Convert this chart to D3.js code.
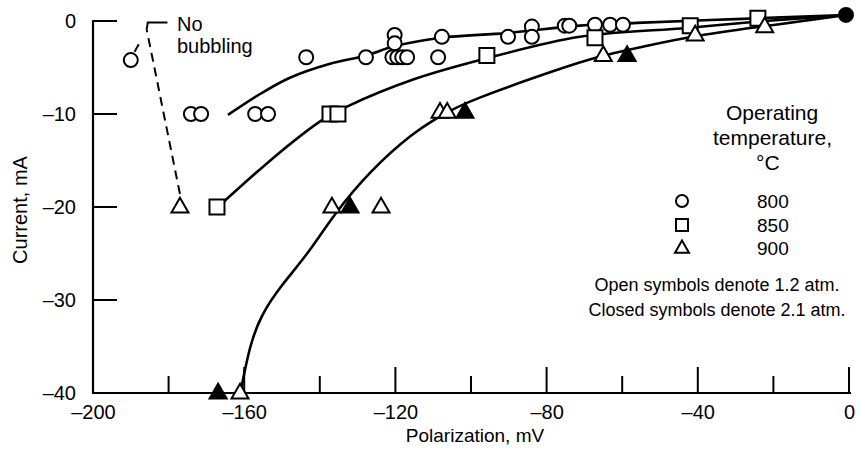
<!DOCTYPE html>
<html><head><meta charset="utf-8">
<script src="https://cdn.jsdelivr.net/npm/d3@7"></script>
<style>
html,body{margin:0;padding:0;background:#fff;}
svg{display:block;}
text{font-family:"Liberation Sans",Arial,Helvetica,sans-serif;fill:#000;}
</style></head>
<body>
<script>
// ---- data (polarization mV, current mA) ----
const xTicks = [-200,-160,-120,-80,-40,0];
const xMinorTicks = [-180,-140,-100,-60,-20];
const yTicks = [0,-10,-20,-30,-40];

const open800 = [[-190,-4.2],[-174.1,-10],[-171.4,-10],[-157.1,-10],[-153.7,-10],
  [-143.6,-3.9],[-127.8,-3.9],[-120.2,-1.5],[-120.2,-2.4],
  [-120.8,-3.9],[-119.5,-3.9],[-118.2,-3.9],[-116.9,-3.9],
  [-108.7,-3.9],[-107.7,-1.7],[-90.2,-1.7],[-83.9,-0.6],[-83.9,-1.7],
  [-75.2,-0.5],[-74.0,-0.5],[-67.2,-0.4],[-63.2,-0.4],[-59.8,-0.4]];
const closed800 = [[-0.8,0.65]];
const open850 = [[-167.2,-20],[-137.3,-10],[-135.2,-10],[-95.8,-3.7],[-67.2,-1.8],[-42,-0.5],[-24.1,0.3]];
const open900 = [[-177,-20],[-161.1,-40],[-136.8,-20],[-123.8,-20],[-108.2,-9.8],[-106.3,-9.8],
  [-65,-3.7],[-40.7,-1.5],[-22.3,-0.6]];
const closed900 = [[-166.9,-40],[-132,-20],[-101.6,-9.8],[-58.7,-3.7]];

const curve800 = [[-164.3,-10.1],[-155.8,-7.85],[-147.9,-6.1],[-137.3,-4.6],[-127.8,-3.7],[-120.1,-2.7],
  [-107.9,-1.8],[-90.5,-1.3],[-71.2,-0.5],[-56.1,-0.2],[-30,0.2],[-0.8,0.65]];
const curve850 = [[-167.2,-20.1],[-150.5,-14.1],[-139.2,-10.6],[-132.8,-9.2],[-115.3,-6.3],[-97.6,-4.2],
  [-71.2,-1.7],[-42.9,-0.75],[-25.4,-0.1],[-0.8,0.65]];
const curve900 = [[-161.1,-40],[-160.6,-39.2],[-158.6,-35],[-155.6,-31.6],[-150,-28.3],
  [-143.4,-25.2],[-136.3,-20.8],[-126.7,-16.1],[-115.3,-12],[-108.5,-10.3],
  [-101.1,-8.6],[-71.2,-4.4],[-65.1,-3.7],[-40.7,-1.5],[-22.8,-0.6],[-0.8,0.65]];

const leaderDashed = [[-177,-18.6],[-185.8,-0.9]];
const leaderSolid = [[-185.8,-0.9],[-185.5,-0.15],[-180.3,-0.15]];
const leaderCircle = [[-189,-3.3],[-187.9,-2.5]];

const legendTemps = ["800","850","900"];
const legendTitle = ["Operating","temperature,","\u00B0C"];
const notes = ["Open symbols denote 1.2 atm.","Closed symbols denote 2.1 atm."];

// ---- drawing ----
const W = 859, H = 453;
const svg = d3.select("body").append("svg").attr("width",W).attr("height",H);
const x = d3.scaleLinear().domain([-200,0]).range([93,849]);
const y = d3.scaleLinear().domain([-40,0]).range([393,21]);
const fmt = v => v===0 ? "0" : "\u2013"+Math.abs(v);

// axes
const xAxis = d3.axisBottom(x).tickValues(xTicks).tickSize(0).tickPadding(12).tickFormat(fmt);
const gx = svg.append("g").attr("transform",`translate(0,${y(-40)})`).call(xAxis);
gx.select(".domain").remove();
gx.selectAll("text").attr("font-size",20).attr("font-family","Liberation Sans, Arial, sans-serif");
svg.append("line").attr("x1",x(-200)).attr("x2",x(0)+2).attr("y1",y(-40)).attr("y2",y(-40))
  .attr("stroke","#000").attr("stroke-width",2.2);
svg.selectAll(".xmaj").data(xTicks.filter(d=>d>-200)).join("line")
  .attr("x1",d=>x(d)).attr("x2",d=>x(d)).attr("y1",y(-40)).attr("y2",y(-40)-26)
  .attr("stroke","#000").attr("stroke-width",2);
svg.selectAll(".xmin").data(xMinorTicks).join("line")
  .attr("x1",d=>x(d)).attr("x2",d=>x(d)).attr("y1",y(-40)).attr("y2",y(-40)-17)
  .attr("stroke","#000").attr("stroke-width",2);

const yAxis = d3.axisLeft(y).tickValues(yTicks).tickSize(0).tickPadding(17).tickFormat(fmt);
const gy = svg.append("g").attr("transform",`translate(${x(-200)},0)`).call(yAxis);
gy.select(".domain").remove();
gy.selectAll("text").attr("font-size",20).attr("font-family","Liberation Sans, Arial, sans-serif");
svg.append("line").attr("x1",x(-200)).attr("x2",x(-200)).attr("y1",y(0)-1).attr("y2",y(-40)+1)
  .attr("stroke","#000").attr("stroke-width",2.2);
svg.selectAll(".ytk").data(yTicks).join("line")
  .attr("x1",x(-200)).attr("x2",x(-200)+24).attr("y1",d=>y(d)).attr("y2",d=>y(d))
  .attr("stroke","#000").attr("stroke-width",2);

// axis titles
svg.append("text").attr("x",475).attr("y",442).attr("text-anchor","middle").attr("font-size",19)
  .text("Polarization, mV");
svg.append("text").attr("transform","translate(27,210) rotate(-90)").attr("text-anchor","middle")
  .attr("font-size",20).text("Current, mA");

// curves
const line = d3.line().x(d=>x(d[0])).y(d=>y(d[1])).curve(d3.curveCatmullRom.alpha(0.5));
const smooth = d3.line().x(d=>x(d[0])).y(d=>y(d[1])).curve(d3.curveBasis);
[line(curve800), line(curve850), smooth(curve900)].forEach(dp=>{
  svg.append("path").attr("d",dp).attr("fill","none").attr("stroke","#000").attr("stroke-width",2.6);
});
const straight = d3.line().x(d=>x(d[0])).y(d=>y(d[1]));
svg.append("path").attr("d",straight(leaderDashed)).attr("fill","none").attr("stroke","#000")
  .attr("stroke-width",2).attr("stroke-dasharray","9,6");
svg.append("path").attr("d",straight(leaderSolid)).attr("fill","none").attr("stroke","#000").attr("stroke-width",2);
svg.append("path").attr("d",straight(leaderCircle)).attr("fill","none").attr("stroke","#000").attr("stroke-width",2);

// markers
const circ = d3.symbol().type(d3.symbolCircle).size(Math.PI*7*7)();
const sq = d3.symbol().type(d3.symbolSquare).size(15*15)();
const triPath = s => { const h=s*0.87; return `M0,${-h*0.62}L${s/2},${h*0.38}L${-s/2},${h*0.38}Z`; };
function marks(data, path, filled){
  svg.append("g").selectAll("path").data(data).join("path")
    .attr("d",path).attr("transform",d=>`translate(${x(d[0])},${y(d[1])})`)
    .attr("fill",filled?"#000":"#fff").attr("stroke","#000").attr("stroke-width",2);
}
marks(open800, circ, false);
marks(closed800, circ, true);
marks(open850, sq, false);
marks(open900, triPath(17), false);
marks(closed900, triPath(17), true);

// annotation
svg.append("text").attr("x",177).attr("y",31).attr("font-size",20).text("No");
svg.append("text").attr("x",177).attr("y",53).attr("font-size",20).text("bubbling");

// legend
const lt = svg.append("g");
lt.append("text").attr("x",726).attr("y",120).attr("font-size",21).text(legendTitle[0]);
lt.append("text").attr("x",713).attr("y",145).attr("font-size",21).text(legendTitle[1]);
lt.append("text").attr("x",756).attr("y",170).attr("font-size",21).text(legendTitle[2]);
const legSyms = [d3.symbol().type(d3.symbolCircle).size(Math.PI*6*6)(), d3.symbol().type(d3.symbolSquare).size(12*12)(), triPath(14)];
const legY = [201,225,248];
legendTemps.forEach((t,i)=>{
  lt.append("path").attr("d",legSyms[i]).attr("transform",`translate(682,${legY[i]})`)
    .attr("fill","#fff").attr("stroke","#000").attr("stroke-width",2);
  lt.append("text").attr("x",757).attr("y",legY[i]+7).attr("font-size",19).text(t);
});
lt.append("text").attr("x",717).attr("y",291).attr("text-anchor","middle").attr("font-size",18).text(notes[0]);
lt.append("text").attr("x",717).attr("y",316).attr("text-anchor","middle").attr("font-size",18).text(notes[1]);
</script>
</body></html>
